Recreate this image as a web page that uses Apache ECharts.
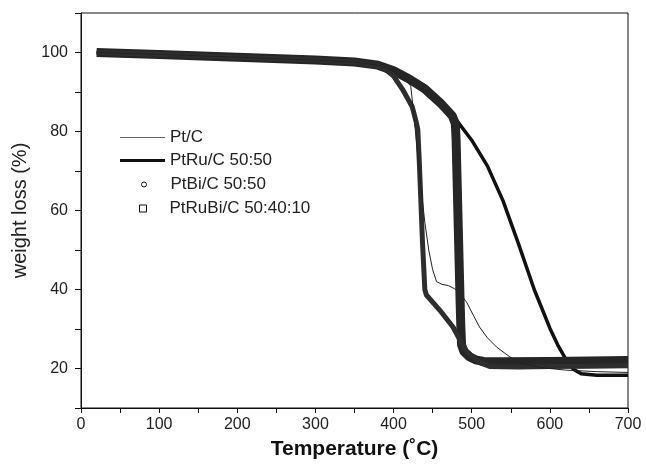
<!DOCTYPE html>
<html lang="en">
<head>
  <meta charset="UTF-8">
  <title>TGA</title>
  <script src="https://cdn.jsdelivr.net/npm/echarts@6/dist/echarts.min.js"></script>
  <style>
    body { margin: 0; background: #fff; }
    #main { width: 646px; height: 467px; }
  </style>
</head>
<body>
<div id="main"></div>
<script>
// [temperature (°C), weight (%)]
var ptC = [[20,100],[100,99.5],[200,98.8],[300,98.1],[350,97.6],[380,96.8],[400,95.2],[415,93],[422,91.5],
  [425,86],[430,76],[435,66],[440,57],[445,50],[450,45],[455,42],[462,41.3],[470,41],[478,40.2],[486,38.8],
  [494,36.6],[502,33.5],[510,30.5],[520,27.8],[532,25.4],[549,22.9],[565,21.2],[590,20.2],[620,19.6],[660,19.2],[700,19]];
var ptRuC = [[20,100],[100,99.5],[200,98.8],[300,98.1],[350,97.6],[380,96.8],[400,95.4],[420,93.3],[440,90.8],
  [460,87.2],[480,83],[500,77.8],[520,71.3],[540,62.5],[560,51.5],[580,40],[600,30.2],[610,26],[620,22.5],
  [630,19.8],[640,18.7],[660,18.3],[700,18.3]];
var ptBiC = [[20,100],[100,99.5],[200,98.8],[300,98.1],[350,97.5],[380,96.6],[390,95.7],[400,94],[412,90.5],
  [424,86.2],[429,82.4],[431,80.5],[433,72],[435,62],[437,52],[439,44],[440,40],[442,38.6],[459,34.8],
  [476,30.5],[485,27.2],[494,24.2],[511,21.4],[523,20.5],[560,20.4],[600,20.5],[650,20.6],[700,20.7]];
var ptRuBiC = [[20,100],[100,99.5],[200,98.8],[300,98.1],[350,97.6],[380,96.8],[400,95.4],[420,93.3],[440,90.8],
  [460,87.2],[475,84],[479,82],[480,78],[481,70],[482,62],[483,54],[484,46],[485,38],[486,31],[487,26],
  [490,24.3],[497,23],[505,22.2],[515,21.8],[540,21.7],[600,21.8],[650,21.9],[700,22]];

var xTicks = [0, 100, 200, 300, 400, 500, 600, 700];
var yTicks = [20, 40, 60, 80, 100];

var myChart = echarts.init(document.getElementById('main'));
var font = 'Liberation Sans, Arial, sans-serif';

function legendItem(name, top, left, icon, w, h, style, pad) {
  return {
    data: [{ name: name, icon: icon }],
    left: left, top: top, padding: 0,
    itemWidth: w, itemHeight: h,
    itemStyle: style,
    selectedMode: false,
    textStyle: { fontFamily: font, fontSize: 17, color: '#222', padding: [0, 0, 0, pad] }
  };
}

function curve(name, data, width, color, z) {
  return {
    name: name, type: 'line', data: data, symbol: 'none', color: color,
    lineStyle: { width: width, color: color, join: 'round' }, z: z
  };
}

var option = {
  backgroundColor: '#fff',
  animation: false,
  grid: { left: 81, right: 18, top: 13, bottom: 59, show: true, borderColor: '#111', borderWidth: 1 },
  legend: [
    legendItem('Pt/C', 129, 120, 'rect', 45, 1, { color: '#666', borderWidth: 0 }, 0),
    legendItem('PtRu/C 50:50', 152, 120, 'rect', 45, 3, { color: '#111', borderWidth: 0 }, 0),
    legendItem('PtBi/C 50:50', 176, 141, 'circle', 5, 5, { color: '#fff', borderColor: '#111', borderWidth: 1 }, 19),
    legendItem('PtRuBi/C 50:40:10', 200, 139, 'rect', 7, 7, { color: '#fff', borderColor: '#111', borderWidth: 1 }, 18)
  ],
  xAxis: {
    type: 'value', min: 0, max: 700, interval: 50,
    name: 'Temperature (˚C)', nameLocation: 'middle', nameGap: 31,
    nameTextStyle: { fontFamily: font, fontSize: 21, fontWeight: 'bold', color: '#111' },
    axisLine: { lineStyle: { color: '#111', width: 1 } },
    axisTick: { length: 5, lineStyle: { color: '#111' } },
    axisLabel: {
      fontFamily: font, fontSize: 16, color: '#222', margin: 9,
      formatter: function (v) { return xTicks.indexOf(v) >= 0 ? String(v) : ''; }
    },
    splitLine: { show: false }
  },
  yAxis: {
    type: 'value', min: 10, max: 110, interval: 10,
    name: 'weight loss (%)', nameLocation: 'middle', nameGap: 37,
    nameTextStyle: { fontFamily: font, fontSize: 20, color: '#222' },
    axisLine: { lineStyle: { color: '#111', width: 1 } },
    axisTick: { length: 6, lineStyle: { color: '#111' } },
    axisLabel: {
      fontFamily: font, fontSize: 16, color: '#222', margin: 13,
      formatter: function (v) { return yTicks.indexOf(v) >= 0 ? String(v) : ''; }
    },
    splitLine: { show: false }
  },
  series: [
    curve('PtRu/C 50:50', ptRuC, 3.5, '#111', 2),
    curve('PtRuBi/C 50:40:10', ptRuBiC, 9, '#262626', 3),
    curve('PtBi/C 50:50', ptBiC, 5, '#2e2e2e', 4),
    curve('Pt/C', ptC, 1, '#222', 5)
  ]
};
myChart.setOption(option);
</script>
</body>
</html>
